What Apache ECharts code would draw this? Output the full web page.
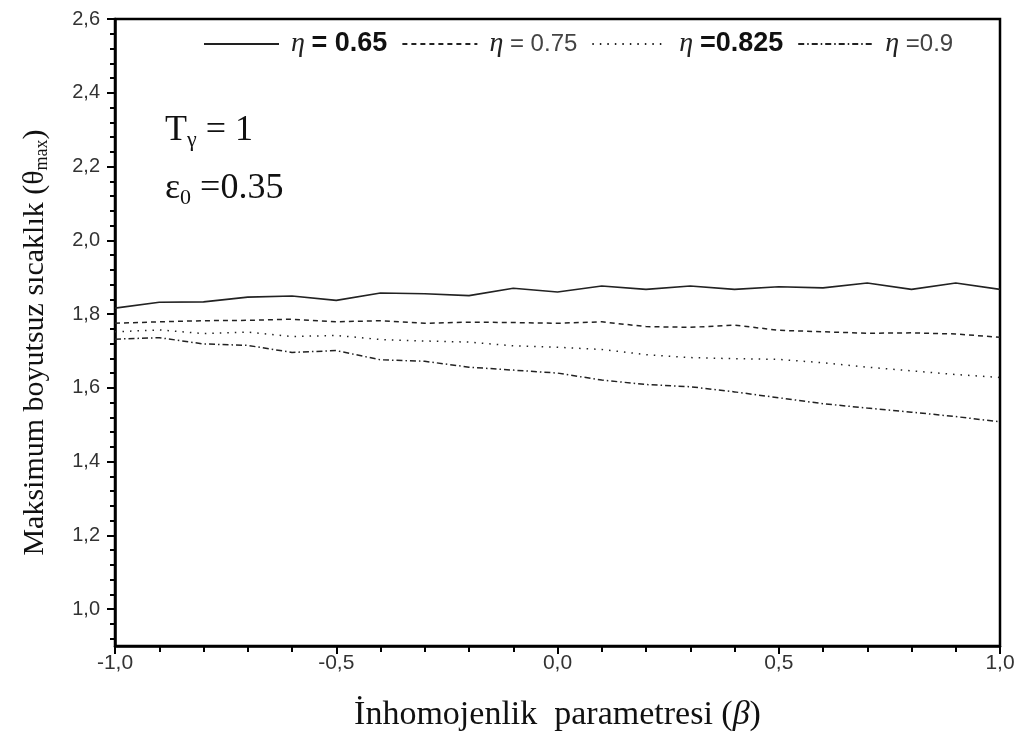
<!DOCTYPE html>
<html>
<head>
<meta charset="utf-8">
<script src="https://cdn.jsdelivr.net/npm/echarts@6/dist/echarts.min.js"></script>
<style>
  html, body { margin: 0; padding: 0; background: #fff; }
  #chart { width: 1028px; height: 742px; }
</style>
</head>
<body>
<div id="chart"></div>
<script>
// beta values along the x axis
const beta = [-1.0, -0.9, -0.8, -0.7, -0.6, -0.5, -0.4, -0.3, -0.2, -0.1, 0.0,
              0.1, 0.2, 0.3, 0.4, 0.5, 0.6, 0.7, 0.8, 0.9, 1.0]

// theta_max
const eta065 = [1.816, 1.832, 1.833, 1.846, 1.849, 1.837, 1.857, 1.855, 1.850, 1.870, 1.860,
                1.876, 1.867, 1.876, 1.867, 1.874, 1.871, 1.884, 1.867, 1.884, 1.867]
const eta075 = [1.775, 1.779, 1.782, 1.783, 1.786, 1.779, 1.782, 1.775, 1.778, 1.777, 1.775,
                1.779, 1.766, 1.764, 1.770, 1.756, 1.752, 1.748, 1.749, 1.746, 1.737]
const eta0825 = [1.752, 1.757, 1.747, 1.751, 1.739, 1.742, 1.731, 1.727, 1.724, 1.714, 1.710,
                 1.704, 1.690, 1.682, 1.679, 1.677, 1.668, 1.656, 1.646, 1.636, 1.628]
const eta09 = [1.732, 1.736, 1.719, 1.715, 1.696, 1.701, 1.676, 1.672, 1.656, 1.648, 1.640,
               1.621, 1.609, 1.603, 1.589, 1.573, 1.557, 1.545, 1.534, 1.522, 1.508]

const yLabels = [1.0, 1.2, 1.4, 1.6, 1.8, 2.0, 2.2, 2.4, 2.6]

// small ticks on the y axis, every 0.04
const yMinor = []
for (let k = 23; k <= 65; k++) yMinor.push(+(k * 0.04).toFixed(2))

const names = ['η065', 'η075', 'η0825', 'η09']
const legendText = {
  'η065': '{eta|η}  {bold|= 0.65}',
  'η075': '{eta|η}  {reg|= 0.75}',
  'η0825': '{eta|η}  {bold|=0.825}',
  'η09': '{eta|η}  {reg|=0.9}'
}

const pairs = arr => beta.map((b, i) => [b, arr[i]])
const comma = v => v.toFixed(1).replace('.', ',')

const chart = echarts.init(document.getElementById('chart'))

const lineColor = '#222'
const serif = 'Liberation Serif'

chart.setOption({
  backgroundColor: '#fff',
  animation: false,
  grid: {
    left: 115, right: 28, top: 19, bottom: 96,
    show: true, borderColor: '#000', borderWidth: 2.5, backgroundColor: 'transparent'
  },
  legend: {
    data: names,
    left: 198, top: 25,
    itemWidth: 75, itemHeight: 14, itemGap: 14,
    itemStyle: { opacity: 0, borderWidth: 0 },
    formatter: n => legendText[n],
    textStyle: {
      padding: [0, 0, 0, 7],
      rich: {
        eta: { fontFamily: serif, fontStyle: 'italic', fontSize: 28, color: '#222' },
        bold: { fontFamily: 'Liberation Sans', fontWeight: 'bold', fontSize: 27, color: '#111' },
        reg: { fontFamily: 'Liberation Sans', fontSize: 24, color: '#444' }
      }
    }
  },
  xAxis: {
    type: 'value',
    min: -1, max: 1, interval: 0.5,
    name: '{t|İnhomojenlik  parametresi (}{b|β}{t|)}',
    nameLocation: 'middle', nameGap: 52,
    nameTextStyle: {
      rich: {
        t: { fontFamily: serif, fontSize: 34, color: '#111' },
        b: { fontFamily: serif, fontStyle: 'italic', fontSize: 34, color: '#111' }
      }
    },
    axisLine: { onZero: false, lineStyle: { color: '#000', width: 2.5 } },
    axisTick: { length: 8, lineStyle: { color: '#000', width: 2 } },
    minorTick: { show: true, splitNumber: 5, length: 6, lineStyle: { color: '#000', width: 2 } },
    splitLine: { show: false },
    axisLabel: {
      formatter: comma, margin: 7,
      fontFamily: 'Liberation Sans Narrow, Liberation Sans', fontSize: 21, color: '#333'
    }
  },
  yAxis: [
    {
      type: 'value',
      min: 0.9, max: 2.6,
      name: '{t|Maksimum boyutsuz sıcaklık (θ}{s|max}{t|)}',
      nameLocation: 'middle', nameGap: 64,
      nameTextStyle: {
        padding: [0, 20, 0, 0],
        rich: {
          t: { fontFamily: serif, fontSize: 30, color: '#111' },
          s: { fontFamily: serif, fontSize: 18, color: '#111', padding: [14, 0, 0, 0] }
        }
      },
      axisLine: { show: true, onZero: false, lineStyle: { color: '#000', width: 2.5 } },
      axisTick: { show: true, length: 8, customValues: yLabels, lineStyle: { color: '#000', width: 2 } },
      splitLine: { show: false },
      axisLabel: {
        customValues: yLabels, formatter: comma, margin: 15,
        fontFamily: 'Liberation Sans', fontSize: 20, color: '#333'
      }
    },
    {
      type: 'value',
      position: 'left',
      min: 0.9, max: 2.6,
      axisLine: { show: false, onZero: false },
      axisTick: { show: true, length: 5, customValues: yMinor, lineStyle: { color: '#000', width: 2 } },
      axisLabel: { show: false },
      splitLine: { show: false }
    }
  ],
  series: [
    {
      name: names[0], type: 'line', data: pairs(eta065), symbol: 'none',
      lineStyle: { color: lineColor, width: 1.6, type: 'solid' }, itemStyle: { color: lineColor }
    },
    {
      name: names[1], type: 'line', data: pairs(eta075), symbol: 'none',
      lineStyle: { color: lineColor, width: 1.5, type: [5, 4] }, itemStyle: { color: lineColor }
    },
    {
      name: names[2], type: 'line', data: pairs(eta0825), symbol: 'none',
      lineStyle: { color: lineColor, width: 1.5, type: [1.5, 6] }, itemStyle: { color: lineColor }
    },
    {
      name: names[3], type: 'line', data: pairs(eta09), symbol: 'none',
      lineStyle: { color: lineColor, width: 1.5, type: [6, 3, 1.5, 3] }, itemStyle: { color: lineColor }
    }
  ],
  graphic: [
    {
      type: 'text', left: 165, top: 113,
      style: {
        text: '{t|T}{s|γ}{t| = 1}',
        rich: {
          t: { fontFamily: serif, fontSize: 36, fill: '#111' },
          s: { fontFamily: serif, fontSize: 22, fill: '#111', padding: [18, 0, 0, 0] }
        }
      }
    },
    {
      type: 'text', left: 165, top: 171,
      style: {
        text: '{t|ε}{s|0}{t| =0.35}',
        rich: {
          t: { fontFamily: serif, fontSize: 36, fill: '#111' },
          s: { fontFamily: serif, fontSize: 22, fill: '#111', padding: [18, 0, 0, 0] }
        }
      }
    }
  ]
})
</script>
</body>
</html>
